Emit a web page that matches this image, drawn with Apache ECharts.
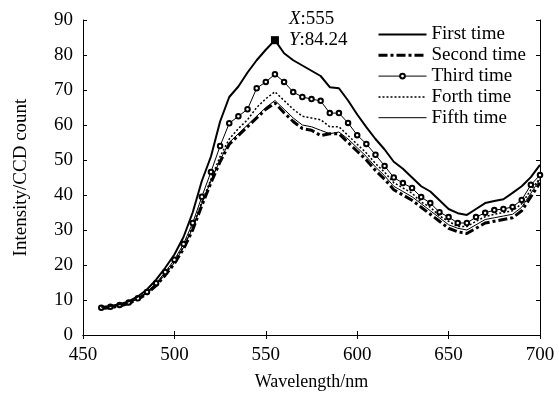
<!DOCTYPE html>
<html>
<head>
<meta charset="utf-8">
<script src="https://cdn.jsdelivr.net/npm/echarts@6/dist/echarts.min.js"></script>
<style>
html,body{margin:0;padding:0;background:#fff;}
#container{width:559px;height:402px;}
</style>
</head>
<body>
<div id="container"></div>
<script>
// wavelength grid (nm)
var wavelength = [460,465,470,475,480,485,490,495,500,505,510,515,520,525,530,535,540,545,550,555,
  560,565,570,575,580,585,590,595,600,605,610,615,620,625,630,635,640,645,650,655,
  660,665,670,675,680,685,690,695,700];

var firstTime = [8,8.3,8.8,9.6,11,13,15.8,19.2,23,28,35,44,51,61,68,71,75,78.5,81.5,84.24,
  80.5,78.5,77,75.5,74,70.8,70.5,67,63,59.4,56,53,49.5,47.5,45,42.5,41,38.5,36,34.8,
  34.3,36,37.7,38.3,38.8,40.6,42.5,45.1,48.6];

var secondTime = [7.6,7.8,8.3,9,10.2,11.8,14.1,17.1,20.4,24.6,30,37,43.5,49.5,54.5,57,59.5,62,64.5,66.3,
  63.5,61,59,58.5,57,57.5,57.5,55,52.5,50,47,44.5,41.5,40,38.5,36.5,34.5,32.5,30.5,29.5,
  29,30.5,32,32.5,33,33.5,35.5,39.5,43.5];

var thirdTime = [7.8,8.1,8.6,9.3,10.5,12.3,14.8,18,21.5,26,32,39.5,46.6,54,60.5,62.5,64.5,70.5,72.3,74.5,
  72.3,69.4,68,67.4,66.9,63.4,63.4,60.6,57.1,54.6,51.5,48.3,45,43.4,42,39.4,37.7,35.1,33.7,32,
  32,33.7,34.9,35.7,36,36.6,38.6,42.9,45.7];

var forthTime = [7.8,8,8.5,9.2,10.4,12.1,14.5,17.6,21,25.3,31,38,44.5,51,56,59,61.5,65,67.5,69.5,
  67,64.5,62.5,62,61.5,59.5,59.5,57,54.5,52,49,46.5,43.5,42,40.5,38,36.5,34,32.5,31,
  31,32.5,33.8,34.5,35,35.5,37.5,41.5,44.8];

var fifthTime = [7.7,7.9,8.4,9.1,10.3,11.9,14.3,17.3,20.7,25,30.5,37.5,44,50,55,57.5,60,62.5,65,67,
  64.5,62,60,59.5,58.5,57.5,58,56,53.5,51,48,45.5,42.5,41,39.5,37.5,35.5,33.5,31.5,30.5,
  30,31.5,33,33.5,34,34.5,36.5,40.5,44.5];

// data cursor on the first run
var peakPoint = [555, 84.24];

function pairs(vals) {
  return wavelength.map(function (w, i) { return [w, vals[i]]; });
}

var dom = document.getElementById('container');
var myChart = echarts.init(dom);
var font = 'Liberation Serif, Times New Roman, serif';

var styles = {
  first: { color: '#000', width: 2, type: 'solid' },
  second: { color: '#000', width: 3, type: [9, 3, 3, 3] },
  third: { color: '#000', width: 1, type: 'solid' },
  forth: { color: '#000', width: 1.5, type: [2, 2] },
  fifth: { color: '#000', width: 1, type: 'solid' }
};

// legend keeps the line sample, hides the marker except for the third run
var noMark = { opacity: 0 };

var option = {
  animation: false,
  textStyle: { fontFamily: font, color: '#000' },
  grid: { left: 83, right: 19, top: 20, bottom: 67 },
  legend: {
    orient: 'vertical',
    left: 372,
    top: 20,
    itemWidth: 48,
    itemHeight: 6,
    itemGap: 1.8,
    textStyle: { fontFamily: font, fontSize: 19, color: '#000' },
    data: [
      { name: 'First time', itemStyle: noMark, lineStyle: styles.first },
      { name: 'Second time', itemStyle: noMark, lineStyle: styles.second },
      { name: 'Third time', itemStyle: { color: '#000', borderColor: '#000', borderWidth: 1 }, lineStyle: styles.third },
      { name: 'Forth time', itemStyle: noMark, lineStyle: styles.forth },
      { name: 'Fifth time', itemStyle: noMark, lineStyle: styles.fifth }
    ]
  },
  xAxis: [{
    type: 'value', min: 450, max: 700, interval: 50,
    name: 'Wavelength/nm', nameLocation: 'middle', nameGap: 38,
    nameTextStyle: { fontFamily: font, fontSize: 18, color: '#000' },
    axisLine: { lineStyle: { color: '#000', width: 1 } },
    axisTick: { inside: true, length: 4, lineStyle: { color: '#000' } },
    axisLabel: { fontFamily: font, fontSize: 19, color: '#000', margin: 11 },
    splitLine: { show: false }
  }, {
    type: 'value', min: 450, max: 700, interval: 50, position: 'top',
    axisLine: { show: true, lineStyle: { color: '#000', width: 1 } },
    axisTick: { inside: true, length: 4, lineStyle: { color: '#000' } },
    axisLabel: { show: false },
    splitLine: { show: false }
  }],
  yAxis: [{
    type: 'value', min: 0, max: 90, interval: 10,
    name: 'Intensity/CCD count', nameLocation: 'middle', nameGap: 52,
    nameTextStyle: { fontFamily: font, fontSize: 19, color: '#000' },
    axisLine: { show: true, lineStyle: { color: '#000', width: 1 } },
    axisTick: { show: true, inside: true, length: 4, lineStyle: { color: '#000' } },
    axisLabel: { fontFamily: font, fontSize: 19, color: '#000', margin: 10 },
    splitLine: { show: false }
  }, {
    type: 'value', min: 0, max: 90, interval: 10, position: 'right',
    axisLine: { show: true, lineStyle: { color: '#000', width: 1 } },
    axisTick: { show: true, inside: true, length: 4, lineStyle: { color: '#000' } },
    axisLabel: { show: false },
    splitLine: { show: false }
  }],
  series: [{
    name: 'First time', type: 'line', data: pairs(firstTime),
    showSymbol: false, symbol: 'none',
    lineStyle: styles.first,
    itemStyle: { color: '#000' },
    z: 5,
    markPoint: {
      symbol: 'rect', symbolSize: 8,
      itemStyle: { color: '#000' },
      data: [{ coord: peakPoint }],
      label: {
        show: true, position: 'right', distance: 5, offset: [0, -11],
        formatter: function () {
          return '{xi|X}{xn|:' + peakPoint[0] + '}\n{yi|Y}{yn|:' + peakPoint[1] + '}';
        },
        rich: {
          xi: { fontFamily: font, fontSize: 19, fontStyle: 'italic', color: '#000', backgroundColor: '#fff', padding: [0, 0, 0, 5], lineHeight: 21 },
          xn: { fontFamily: font, fontSize: 19, color: '#000', backgroundColor: '#fff', padding: [0, 3, 0, 0], lineHeight: 21 },
          yi: { fontFamily: font, fontSize: 19, fontStyle: 'italic', color: '#000', padding: [0, 0, 0, 5], lineHeight: 21 },
          yn: { fontFamily: font, fontSize: 19, color: '#000', lineHeight: 21 }
        }
      }
    }
  }, {
    name: 'Second time', type: 'line', data: pairs(secondTime),
    showSymbol: false, symbol: 'none',
    lineStyle: styles.second,
    itemStyle: { color: '#000' }
  }, {
    name: 'Third time', type: 'line', data: pairs(thirdTime),
    symbol: 'emptyCircle', symbolSize: 4.5,
    lineStyle: styles.third,
    itemStyle: { color: '#000', borderColor: '#000', borderWidth: 0.8 }
  }, {
    name: 'Forth time', type: 'line', data: pairs(forthTime),
    showSymbol: false, symbol: 'none',
    lineStyle: styles.forth,
    itemStyle: { color: '#000' }
  }, {
    name: 'Fifth time', type: 'line', data: pairs(fifthTime),
    showSymbol: false, symbol: 'none',
    lineStyle: styles.fifth,
    itemStyle: { color: '#000' }
  }]
};

myChart.setOption(option);
</script>
</body>
</html>
